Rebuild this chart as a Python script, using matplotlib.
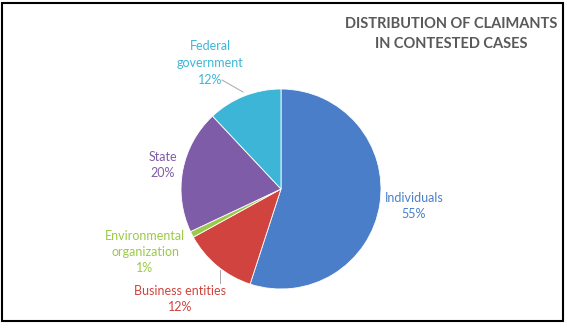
import matplotlib.pyplot as plt
from matplotlib.patches import Rectangle

categories = ["Individuals", "Business entities", "Environmental\norganization", "State", "Federal\ngovernment"]
shares = [55, 12, 1, 20, 12]
colors = ["#4A7EC9", "#D0433E", "#9BC94A", "#7F5CA8", "#3DB5D6"]

# label anchor points in pie units (radius = 1)
label_pos = [(1.33, -0.17), (-1.01, -1.10), (-1.36, -0.63), (-1.18, 0.24), (-0.71, 1.26)]

plt.rcParams["font.family"] = ["Lato", "DejaVu Sans"]

fig = plt.figure(figsize=(5.66, 3.25), dpi=100)
ax = fig.add_axes([181 / 566, 36 / 325, 200 / 566, 200 / 325])
ax.pie(shares, colors=colors, startangle=90, counterclock=False,
       wedgeprops=dict(linewidth=0.6, edgecolor="white"))
ax.set_xlim(-1, 1)
ax.set_ylim(-1, 1)
ax.set_aspect("equal")
ax.axis("off")

for cat, val, col, (lx, ly) in zip(categories, shares, colors, label_pos):
    ax.text(lx, ly, f"{cat}\n{val}%", color=col, fontsize=9, ha="center", va="center",
            linespacing=1.45, clip_on=False)

# leader lines
ax.plot([-0.59, -0.38], [1.09, 0.97], color="#A6A6A6", lw=0.7, clip_on=False)
ax.plot([-0.61, -0.61], [-0.81, -0.94], color="#A6A6A6", lw=0.7, clip_on=False)

fig.text(451 / 566, 1 - 34 / 325, "DISTRIBUTION OF CLAIMANTS\nIN CONTESTED CASES",
         ha="center", va="center", fontsize=10.5, fontweight="bold", color="#595959",
         linespacing=1.55)

fig.patches.append(Rectangle((0.004, 0.012), 0.99, 0.98, transform=fig.transFigure,
                             fill=False, edgecolor="black", linewidth=1.5))

fig.savefig("out.png", dpi=100)
